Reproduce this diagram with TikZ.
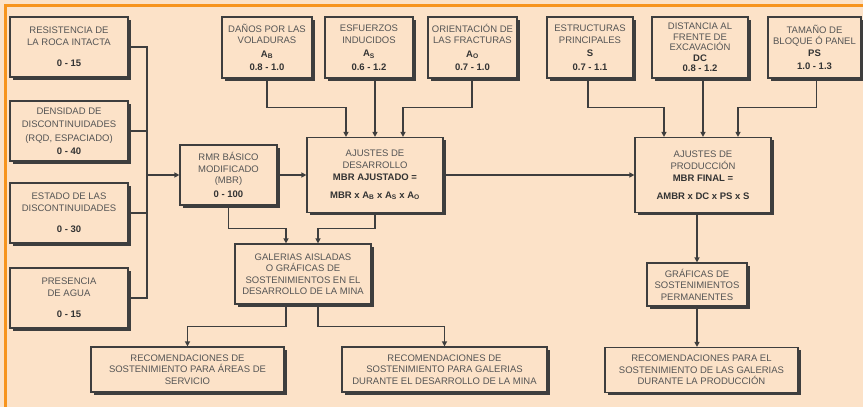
\documentclass[tikz,border=0pt]{standalone}
\usepackage{fontspec}
\setmainfont{Liberation Sans}
\usetikzlibrary{
  arrows.meta,
  shadows,
  positioning,
  calc
}
\definecolor{rmBack}{HTML}{FCE2C8}
\definecolor{rmFrame}{HTML}{F7941D}
\definecolor{rmLine}{HTML}{3E3E3E}
\definecolor{rmText}{HTML}{555555}
\definecolor{rmBold}{HTML}{333333}
\tikzset{
  rmnode/.style={
    draw=rmLine, fill=rmBack, line width=1.2pt, align=center, inner sep=1pt,
    text=rmText, font=\fontsize{9.5}{11.5}\selectfont,
    drop shadow={shadow xshift=2.5pt, shadow yshift=-2.5pt, fill=rmLine, opacity=1}
  },
  factor/.style={rmnode, minimum width=118pt, minimum height=60pt},
  adjust/.style={rmnode, minimum height=61pt},
  stage/.style={rmnode, minimum width=136pt, minimum height=75pt},
  result/.style={rmnode, minimum height=45pt},
  link/.style={line width=1.3pt, rmLine},
  flow/.style={link, -{Triangle[length=5pt, width=5pt]}}
}
\newcommand{\val}[1]{\textbf{\color{rmBold}#1}}
\newcommand{\ix}[1]{A\textsubscript{#1}}

\begin{document}
\begin{tikzpicture}[x=1pt, y=-1pt]
  \useasboundingbox (0,0) rectangle (863,407);
  \fill[rmBack] (0,0) rectangle (863,407);
  \draw[rmFrame, line width=3pt] (5,407) -- (5,5) -- (863,5);

  \node[factor] (roca) at (69,47) {RESISTENCIA DE\\LA ROCA INTACTA\\[10pt]\val{0 - 15}};
  \node[factor] (dens) at (69,131) {DENSIDAD DE\\[2pt]DISCONTINUIDADES\\[2pt](RQD, ESPACIADO)\\[2pt]\val{0 - 40}};
  \node[factor] (estado) at (69,213) {ESTADO DE LAS\\DISCONTINUIDADES\\[10pt]\val{0 - 30}};
  \node[factor] (agua) at (69,298) {PRESENCIA\\DE AGUA\\[10pt]\val{0 - 15}};

  \node[rmnode, minimum width=97pt, minimum height=60pt] (rmr) at (228.5,175) {RMR BÁSICO\\MODIFICADO\\(MBR)\\[2pt]\val{0 - 100}};

  \node[adjust, minimum width=90pt] (danos) at (267,47.5) {DAÑOS POR LAS\\VOLADURAS\\[2pt]\val{\ix{B}}\\[2pt]\val{0.8 - 1.0}};
  \node[adjust, minimum width=88pt] (esf) at (369,47.5) {ESFUERZOS\\INDUCIDOS\\[2pt]\val{\ix{S}}\\[2pt]\val{0.6 - 1.2}};
  \node[adjust, minimum width=89pt] (orient) at (472.5,47.5) {ORIENTACIÓN DE\\LAS FRACTURAS\\[2pt]\val{\ix{O}}\\[2pt]\val{0.7 - 1.0}};

  \node[adjust, minimum width=86pt] (estr) at (590,47.5) {ESTRUCTURAS\\PRINCIPALES\\[2pt]\val{S}\\[2pt]\val{0.7 - 1.1}};
  \node[adjust, minimum width=96pt, font=\fontsize{9.5}{10.5}\selectfont] (dist) at (700,47.5) {DISTANCIA AL\\FRENTE DE\\EXCAVACIÓN\\\val{DC}\\\val{0.8 - 1.2}};
  \node[adjust, minimum width=93pt] (tam) at (814.5,47.5) {TAMAÑO DE\\BLOQUE Ó PANEL\\\val{PS}\\[2pt]\val{1.0 - 1.3}};

  \node[stage] (ajdes) at (375,175) {AJUSTES DE\\DESARROLLO\\[1pt]\val{MBR AJUSTADO =}\\[6pt]\val{MBR x \ix{B} x \ix{S} x \ix{O}}};
  \node[stage] (ajprod) at (703,175) {AJUSTES DE\\PRODUCCIÓN\\[1pt]\val{MBR FINAL =}\\[6pt]\val{AMBR x DC x PS x S}};

  \node[rmnode, minimum width=136pt, minimum height=60pt] (galer) at (303,274) {GALERIAS AISLADAS\\O GRÁFICAS DE\\SOSTENIMIENTOS EN EL\\DESARROLLO DE LA MINA};
  \node[rmnode, minimum width=100pt, minimum height=43pt] (grafperm) at (697,284.5) {GRÁFICAS DE\\SOSTENIMIENTOS\\PERMANENTES};

  \node[result, minimum width=193pt] (recserv) at (187.5,369.5) {RECOMENDACIONES DE\\SOSTENIMIENTO PARA ÁREAS DE\\SERVICIO};
  \node[result, minimum width=205pt] (recgal) at (444.5,369.5) {RECOMENDACIONES DE\\SOSTENIMIENTO PARA GALERIAS\\DURANTE EL DESARROLLO DE LA MINA};
  \node[result, minimum width=193pt] (recprod) at (701.5,370) {RECOMENDACIONES PARA EL\\SOSTENIMIENTO DE LAS GALERIAS\\DURANTE LA PRODUCCIÓN};

  \coordinate (bus) at (147,175);
  \draw[link] (roca.east) -| (bus);
  \draw[link] (dens.east) -| (bus);
  \draw[link] (estado.east) -| (bus);
  \draw[link] (agua.east) -| (bus);
  \draw[flow] (bus) -- (rmr.west);
  \draw[flow] (rmr.east) -- (ajdes.west);
  \draw[flow] (ajdes.east) -- (ajprod.west);

  \draw[flow] (danos.south) -- ++(0,29) -| ([xshift=-29pt]ajdes.north);
  \draw[flow] (esf.south -| ajdes.north) -- (ajdes.north);
  \draw[flow] ([xshift=-0.5pt]orient.south) -- ++(0,29) -| ([xshift=28pt]ajdes.north);

  \draw[flow] ([xshift=-2pt]estr.south) -- ++(0,29) -| ([xshift=-39pt]ajprod.north);
  \draw[flow] (dist.south -| ajprod.north) -- (ajprod.north);
  \draw[flow] ([xshift=2pt]tam.south) -- ++(0,29) -| ([xshift=35pt]ajprod.north);

  \draw[flow] (ajprod.south -| grafperm.north) -- (grafperm.north);
  \draw[flow] (grafperm.south) -- (grafperm.south |- recprod.north);

  \draw[flow] (rmr.south) -- ++(0,23) -| ([xshift=-17pt]galer.north);
  \draw[flow] (ajdes.south) -- ++(0,15.5) -| ([xshift=15pt]galer.north);
  \draw[flow] ([xshift=-17pt]galer.south) -- ++(0,22) -| (recserv.north);
  \draw[flow] ([xshift=15pt]galer.south) -- ++(0,22) -| (recgal.north);
\end{tikzpicture}
\end{document}
